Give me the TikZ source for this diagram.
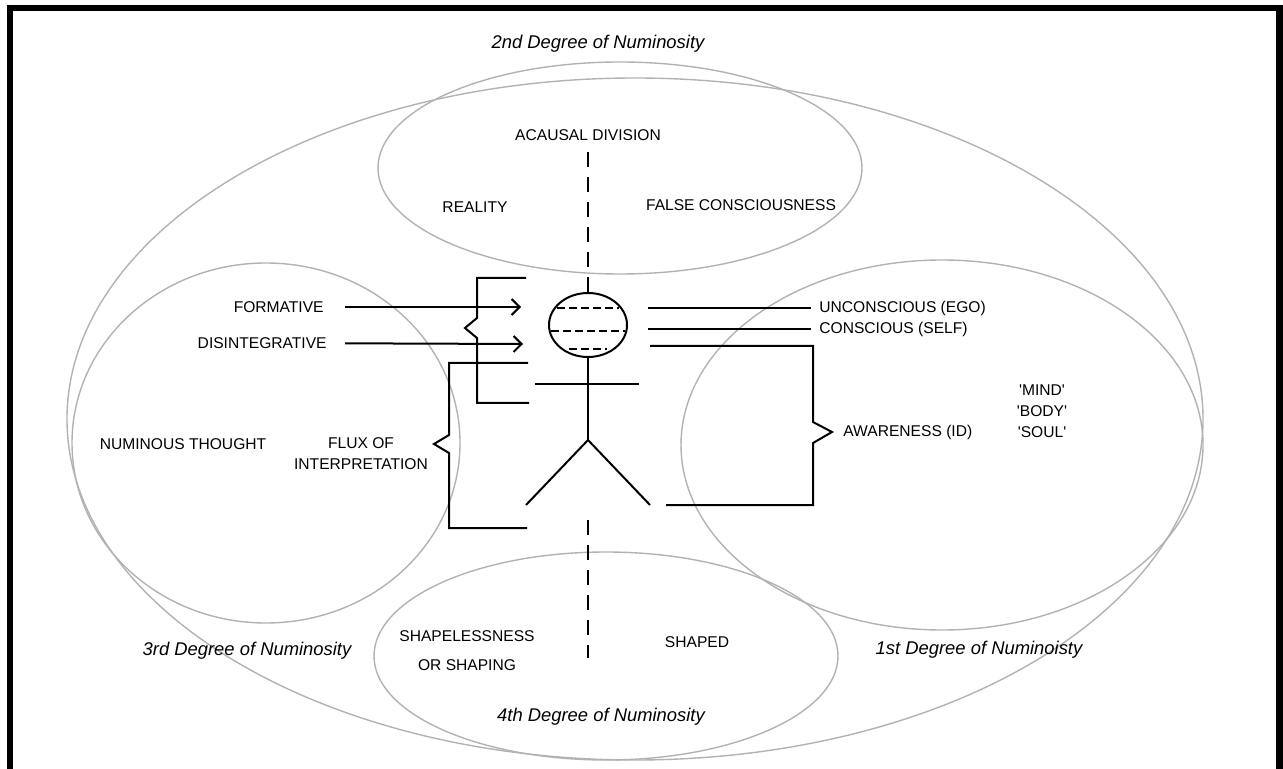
\documentclass[tikz,border=0pt]{standalone}
\usepackage{fontspec}
\setmainfont{Liberation Sans}
\usepackage{xcolor}
\usepackage{tikz}
\usetikzlibrary{arrows.meta}
\usetikzlibrary{shapes.geometric}
\colorlet{ringgray}{black!30}
\newcommand\lblfont{\fontsize{7.8}{10.5}\selectfont}
\newcommand\degfont{\fontsize{9.2}{11}\selectfont\itshape}
\newcommand\q{\textquotesingle}
\tikzstyle{ring}=[draw=ringgray,line width=.7pt]
\tikzstyle{stick}=[line width=1pt]
\tikzstyle{divide}=[stick,dash pattern=on 7.5pt off 5pt]
\tikzstyle{chord}=[line width=.8pt,dash pattern=on 4pt off 2pt]
\tikzstyle{lbl}=[inner sep=0pt,font=\lblfont]
\tikzstyle{deg}=[inner sep=0pt,font=\degfont]
\tikzstyle{head}=[draw,stick,ellipse,inner sep=0pt,minimum width=39pt,minimum height=32pt]
\tikzstyle{flhead}=[>/.tip={Straight Barb[length=4pt,width=8pt]}]
\tikzstyle{fl}=[stick,flhead,->]

\begin{document}
\begin{tikzpicture}[x=.5pt,y=-.5pt]
	\useasboundingbox (0,0) rectangle (1283,769);
	% frame
	\fill (7,5) rectangle (1283,11);
	\fill (7,5) rectangle (13,769);
	\fill (1276,5) rectangle (1283,769);
	% degrees of numinosity
	\draw[ring] (635,419) ellipse [x radius=568,y radius=341];
	\draw[ring] (620,168) ellipse [x radius=242,y radius=106];
	\draw[ring] (266,443) ellipse [x radius=194,y radius=180];
	\draw[ring] (942,445) ellipse [x radius=261,y radius=185];
	\draw[ring] (606,656) ellipse [x radius=232,y radius=104];
	\node[deg] (deg2) at (598,44)  {2nd Degree of Numinosity};
	\node[deg] (deg3) at (247,651) {3rd Degree of Numinosity};
	\node[deg] (deg1) at (979,650) {1st Degree of Numinoisty};
	\node[deg] (deg4) at (601,717) {4th Degree of Numinosity};
	% labels
	\node[lbl] (acausal)    at (588,135) {ACAUSAL DIVISION};
	\node[lbl] (reality)    at (475,207) {REALITY};
	\node[lbl] (falsecon)   at (741,205) {FALSE CONSCIOUSNESS};
	\node[lbl,anchor=east] (formative) at (324,307) {FORMATIVE};
	\node[lbl,anchor=east] (disint)    at (327,343) {DISINTEGRATIVE};
	\node[lbl] (numthought) at (183,444) {NUMINOUS THOUGHT};
	\node[lbl,align=center] (flux) at (361,454) {FLUX OF\\INTERPRETATION};
	\node[lbl,anchor=west] (unconscious) at (819,308) {UNCONSCIOUS (EGO)};
	\node[lbl,anchor=west] (conscious)   at (819,329) {CONSCIOUS (SELF)};
	\node[lbl,anchor=west] (awareness)   at (843,432) {AWARENESS (ID)};
	\node[lbl,align=center] (mbs) at (1042,411) {\q MIND\q\\\q BODY\q\\\q SOUL\q};
	\node[lbl,align=center] (shapeless) at (467,651) {SHAPELESSNESS\\[4pt]OR SHAPING};
	\node[lbl] (shaped) at (697,642) {SHAPED};
	% the figure
	\node[head] (head) at (588,325) {};
	\coordinate (hip) at (588,440);
	\draw[divide,shorten <=5.7pt] (acausal) -- (head);
	\foreach \yy/\hw in {308/31,331/37,349/19}
		\draw[chord] (588-\hw,\yy) -- (588+\hw,\yy);
	\draw[stick] (head) -- (hip);
	\draw[stick] (535,384) -- (639,384);
	\draw[stick] (526,505) -- (hip) -- (650,505);
	\draw[divide] (588,520) -- (588,658);
	% forces
	\coordinate (fa) at (521,307);
	\coordinate (da) at (523,344);
	\draw[fl,shorten <=10.5pt] (formative) -- (fa);
	\draw[fl,shorten <=9pt]    (disint) -- (da);
	% mind levels
	\coordinate (ue) at (648,308);
	\coordinate (ce) at (648,329);
	\draw[stick,shorten >=4pt] (ue) -- (unconscious);
	\draw[stick,shorten >=4pt] (ce) -- (conscious);
	% brackets
	\draw[stick] (526,278) -| (477,318) -- (465,328) -- (477,338) |- (529,403);
	\draw[stick] (528,363) -| (449,435) -- (434,444) -- (449,453) |- (527,528);
	\draw[stick] (650,346) -| (813,422) -- (832,432) -- (813,443) |- (666,505);
\end{tikzpicture}
\end{document}
